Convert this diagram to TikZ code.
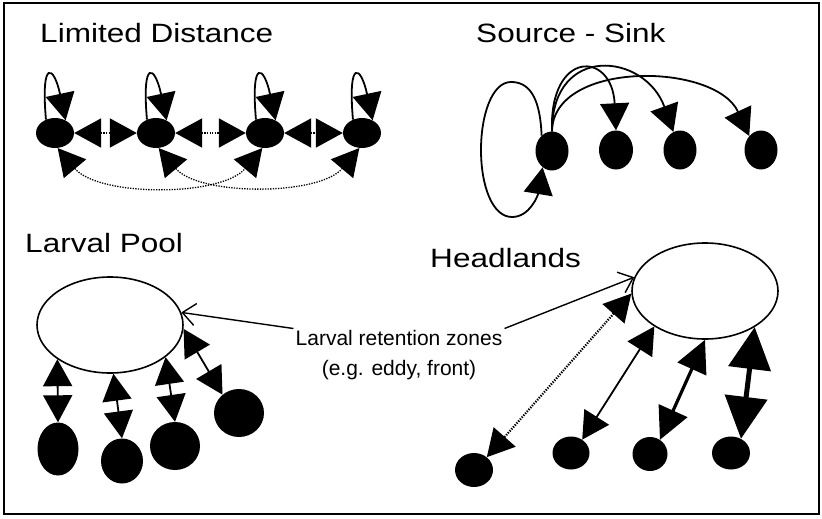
\documentclass[tikz,border=0pt]{standalone}
\usepackage{fontspec}
\setmainfont{Liberation Sans}
\usetikzlibrary{arrows.meta,shapes.geometric}

\tikzset{
  larva/.style={ellipse, fill=black, inner sep=0pt},
  pool/.style={ellipse, draw, line width=1.6pt, inner sep=0pt, minimum width=146pt, minimum height=96pt},
  heading/.style={anchor=base west, inner sep=0pt, xscale=1.19, font=\fontsize{26.5}{30}\selectfont},
  link/.style={line width=1.8pt, <->},
  faint/.style={dash pattern=on 1.3pt off 1.3pt},
  pointer/.style={line width=1.4pt, -{Straight Barb[length=13pt,width=22pt]}}
}

\begin{document}
\begin{tikzpicture}[x=1pt, y=1pt, >={Triangle[length=27pt,width=29pt]}]
\useasboundingbox (0,0) rectangle (822,-519);
\draw[line width=1.5pt] (4,-3) rectangle (819,-514);

% limited distance
\node[heading] (tld) at (40,-43) {Limited Distance};
\foreach \i/\x in {1/55,2/156,3/265,4/362}{
  \node[larva, minimum width=38pt, minimum height=30pt] (ld\i) at (\x,-133) {};
  \draw[line width=1.8pt, ->] (ld\i.124) .. controls +(95:62) and +(102:56) .. (ld\i.50);
}
\foreach \a/\b in {1/2,2/3,3/4}
  \draw[faint, line width=2pt, <->] (ld\a) -- (ld\b);
\draw[faint, line width=1.3pt, <->] (ld1.-80) to[out=-50, in=-130, looseness=.8] (ld3.-100);
\draw[faint, line width=1.3pt, <->] (ld2.-80) to[out=-50, in=-130, looseness=.8] (ld4.-100);

% source - sink
\node[heading] (tss) at (476,-43) {Source - Sink};
\node[larva, minimum width=33pt, minimum height=39pt] (src) at (552,-151) {};
\node[larva, minimum width=34pt, minimum height=39pt] (snk1) at (616,-150) {};
\node[larva, minimum width=33pt, minimum height=39pt] (snk2) at (680,-150) {};
\node[larva, minimum width=33pt, minimum height=39pt] (snk3) at (761,-150) {};
\draw[line width=1.8pt, ->] (src.north) .. controls (549,-50) and (612,-50) .. (snk1.north);
\draw[line width=1.8pt, ->] (src.north) .. controls (552,-43) and (645,-53) .. (snk2.110);
\draw[line width=1.8pt, ->] (src.north) .. controls (553,-60) and (715,-62) .. (snk3.130);
\draw[line width=1.8pt, ->] (src.124) .. controls (540,-95) and (528,-82) .. (511,-82)
  .. controls (492,-82) and (481,-115) .. (481,-150)
  .. controls (481,-185) and (492,-217) .. (512,-217)
  .. controls (530,-217) and (538,-195) .. (src.-120);

% larval pool
\node[heading] (tlp) at (25,-252) {Larval Pool};
\node[pool] (lp) at (110,-325) {};
\node[larva, minimum width=41pt, minimum height=53pt] (lp1) at (58,-449) {};
\node[larva, minimum width=42pt, minimum height=45pt] (lp2) at (122,-461) {};
\node[larva, minimum width=50pt, minimum height=48pt] (lp3) at (175,-446) {};
\node[larva, minimum width=50pt, minimum height=48pt] (lp4) at (239,-413) {};
\draw[link] (lp.213) -- (lp1.north);
\draw[link] (lp.-86) -- (lp2.north);
\draw[link] (lp.-30) -- (lp3.north);
\draw[link] (lp.-3) -- (lp4.132);

% headlands
\node[heading] (thl) at (430,-267) {Headlands};
\node[pool] (hl) at (705,-291) {};
\node[larva, minimum width=38pt, minimum height=34pt] (hl1) at (474,-470) {};
\node[larva, minimum width=37pt, minimum height=33pt] (hl2) at (571,-453) {};
\node[larva, minimum width=35pt, minimum height=34pt] (hl3) at (650,-454) {};
\node[larva, minimum width=38pt, minimum height=33pt] (hl4) at (731,-453) {};
\draw[link, faint, line width=2.2pt] (hl.182) -- (hl1.45);
\draw[link] (hl.215) -- (hl2.50);
\draw[>={Triangle[length=32pt,width=31pt]}, link, line width=3.2pt] (hl.south) -- (hl3.55);
\draw[>={Triangle[length=42pt,width=42pt]}, link, line width=5pt] (hl.-36) -- (hl4.55);

% retention zones
\node[align=center, font=\fontsize{21}{30}\selectfont, inner sep=2pt] (note) at (399,-355.5)
  {Larval retention zones\\(e.g. eddy, front)};
\draw[pointer] (note.north west) -- (lp.10);
\draw[pointer] (note.north east) -- (hl.169);
\end{tikzpicture}
\end{document}
